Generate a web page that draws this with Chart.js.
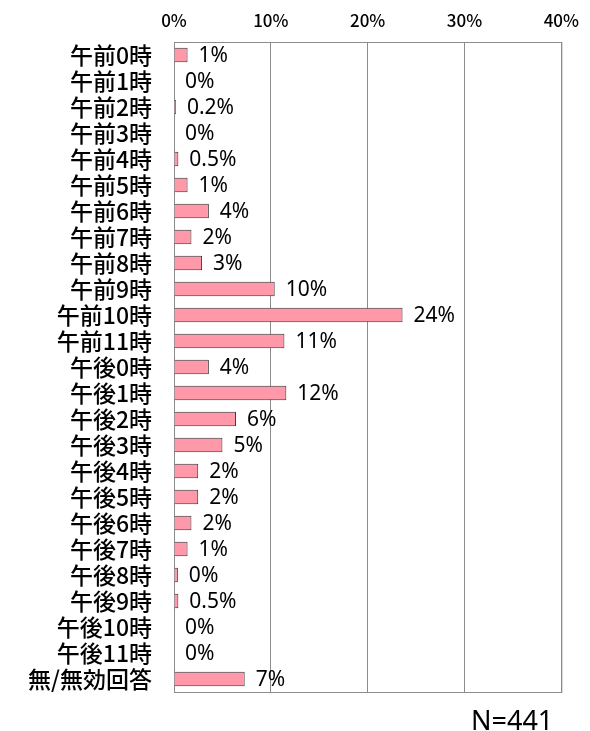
<!DOCTYPE html>
<html>
<head>
<meta charset="utf-8">
<script src="https://cdn.jsdelivr.net/npm/chart.js@4"></script>
<style>
  html, body { margin: 0; padding: 0; background: #fff; }
  #wrap { position: relative; width: 590px; height: 731px; }
  #n-note {
    position: absolute; left: 471px; top: 701px;
    font-family: "Noto Sans", sans-serif; font-size: 27px; color: #000;
  }
</style>
</head>
<body>
<div id="wrap">
  <canvas id="myChart" width="590" height="731"></canvas>
  <div id="n-note">N=441</div>
</div>
<script>
const hours = [
    '午前0時', '午前1時', '午前2時', '午前3時', '午前4時', '午前5時',
    '午前6時', '午前7時', '午前8時', '午前9時', '午前10時', '午前11時',
    '午後0時', '午後1時', '午後2時', '午後3時', '午後4時', '午後5時',
    '午後6時', '午後7時', '午後8時', '午後9時', '午後10時', '午後11時',
    '無/無効回答',
];
const shares = [
    1.4, 0, 0.2, 0, 0.45, 1.4,
    3.6, 1.8, 2.9, 10.4, 23.6, 11.4,
    3.6, 11.6, 6.4, 5.0, 2.5, 2.5,
    1.8, 1.4, 0.4, 0.45, 0, 0,
    7.3,
];
const shareLabels = [
    '1%', '0%', '0.2%', '0%', '0.5%', '1%',
    '4%', '2%', '3%', '10%', '24%', '11%',
    '4%', '12%', '6%', '5%', '2%', '2%',
    '2%', '1%', '0%', '0.5%', '0%', '0%',
    '7%',
];
const xTicks = [0, 10, 20, 30, 40];

// draws the percent text right of each bar
const barText = {
    id: 'barText',
    afterDatasetsDraw(chart) {
        const ctx = chart.ctx;
        const meta = chart.getDatasetMeta(0);
        ctx.save();
        ctx.font = '21px "Noto Sans", sans-serif';
        ctx.fillStyle = '#000';
        ctx.textAlign = 'left';
        ctx.textBaseline = 'middle';
        meta.data.forEach((bar, i) => {
            ctx.fillText(shareLabels[i], bar.x + 11, bar.y + 1);
        });
        ctx.restore();
    },
};

// box round the plot area
const plotBox = {
    id: 'plotBox',
    beforeDatasetsDraw(chart) {
        const { ctx, chartArea: a } = chart;
        ctx.save();
        ctx.strokeStyle = '#8c8c8c';
        ctx.lineWidth = 1;
        ctx.strokeRect(a.left + 0.5, a.top + 0.5, a.right - a.left, a.bottom - a.top);
        ctx.restore();
    },
};

const ctx = document.getElementById('myChart').getContext('2d');
new Chart(ctx, {
    type: 'bar',
    data: {
        labels: hours,
        datasets: [{
            data: shares,
            backgroundColor: '#ff99aa',
            borderColor: '#333333',
            borderWidth: 1,
            borderSkipped: 'left',
            barPercentage: 0.55,
            categoryPercentage: 1,
        }],
    },
    options: {
        indexAxis: 'y',
        responsive: false,
        animation: false,
        layout: { padding: { left: 0, right: 26, top: 0, bottom: 39 } },
        plugins: {
            legend: { display: false },
            tooltip: { enabled: false },
        },
        scales: {
            x: {
                position: 'top',
                min: 0,
                max: 40,
                afterBuildTicks: (scale) => {
                    scale.ticks = xTicks.map(v => ({ value: v }));
                },
                afterFit: (scale) => { scale.height = 42; },
                grid: { color: '#8c8c8c', drawTicks: false },
                border: { display: false },
                ticks: {
                    padding: 11,
                    color: '#000',
                    font: { family: '"Noto Sans CJK JP", sans-serif', size: 17, weight: '500' },
                    callback: (v) => v + '%',
                },
            },
            y: {
                afterFit: (scale) => { scale.width = 174; },
                grid: { display: false, drawTicks: false },
                border: { display: false },
                ticks: {
                    padding: 22,
                    color: '#000',
                    autoSkip: false,
                    font: { family: '"Noto Sans CJK JP", sans-serif', size: 23, weight: '500' },
                },
            },
        },
    },
    plugins: [plotBox, barText],
});
</script>
</body>
</html>
